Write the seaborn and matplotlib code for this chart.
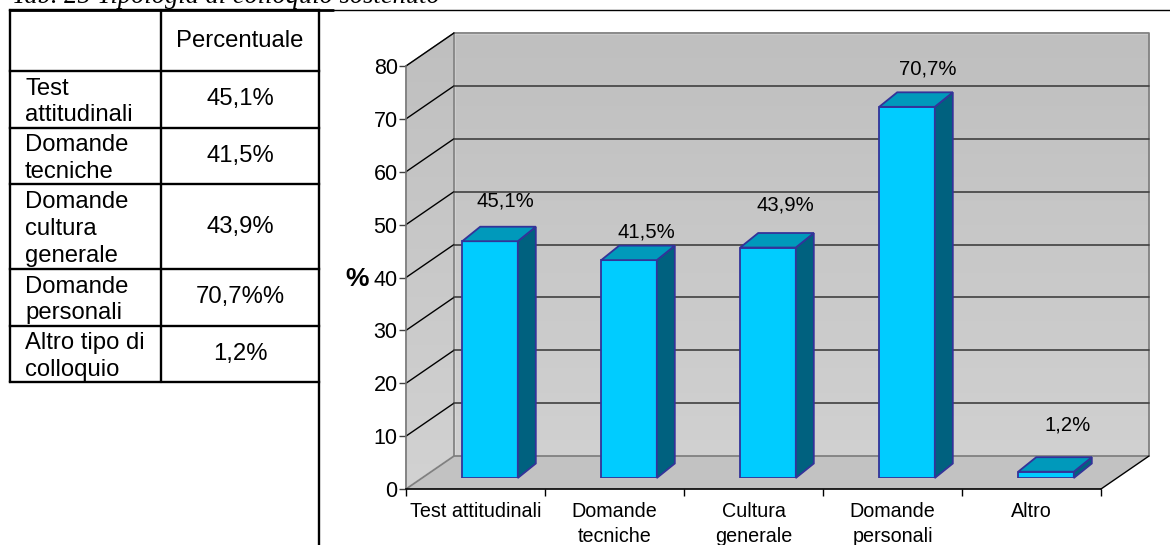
import matplotlib
matplotlib.use('Agg')
import matplotlib.pyplot as plt
import numpy as np
import pandas as pd
import seaborn as sns
from matplotlib.patches import Polygon
from matplotlib.transforms import IdentityTransform

categories = ['Test attitudinali', 'Domande\ntecniche', 'Cultura\ngenerale', 'Domande\npersonali', 'Altro']
values = [45.1, 41.5, 43.9, 70.7, 1.2]
value_labels = ['45,1%', '41,5%', '43,9%', '70,7%', '1,2%']
y_ticks = [0, 10, 20, 30, 40, 50, 60, 70, 80]

table_header = 'Percentuale'
table_rows = ['Test\nattitudinali', 'Domande\ntecniche', 'Domande\ncultura\ngenerale', 'Domande\npersonali', 'Altro tipo di\ncolloquio']
table_values = ['45,1%', '41,5%', '43,9%', '70,7%%', '1,2%']
title = 'Tab. 25 Tipologia di colloquio sostenuto'

W, H = 1170, 545
FONT = 'Liberation Sans'
row_lines = [10, 71, 128, 184, 269, 326, 382]
label_xy = [(505, 201), (646, 232), (785, 205), (928, 69), (1068, 425)]


def px_axes(fig, x0, y0, x1, y1):
    return fig.add_axes([x0 / W, 1 - y1 / H, (x1 - x0) / W, (y1 - y0) / H])


sns.set_theme(style='white')
plt.rcParams['font.family'] = [FONT, 'DejaVu Sans']
plt.rcParams['text.color'] = 'black'
plt.rcParams['xtick.color'] = 'black'
plt.rcParams['ytick.color'] = 'black'
fig = plt.figure(figsize=(W / 100, H / 100), dpi=100)

# page axes in pixels: table and the chart walls
page = px_axes(fig, 0, 0, W, H)
page.set_xlim(0, W)
page.set_ylim(H, 0)
page.axis('off')

page.text(12, 3, title, family='Liberation Serif', style='italic', fontsize=19.1, va='baseline', clip_on=False)
page.plot([10, 333], [10, 10], color='black', lw=2)
page.plot([333, W], [10, 10], color='black', lw=1)
for y in row_lines:
    page.plot([10, 319], [y, y], color='black', lw=1.7, solid_capstyle='projecting')
page.plot([10, 10], [10, 382], color='black', lw=1.7)
page.plot([161, 161], [10, 382], color='black', lw=1.7)
page.plot([319, 319], [10, H], color='black', lw=1.7)
page.text(240, 41, table_header, ha='center', va='center', fontsize=17.2)
for i, (r, v) in enumerate(zip(table_rows, table_values)):
    mid = (row_lines[i + 1] + row_lines[i + 2]) / 2
    page.text(25, mid + 2.5, r, ha='left', va='center', fontsize=17.2, linespacing=1.28)
    page.text(240, mid, v, ha='center', va='center', fontsize=17.2)

grad = np.linspace(0, 1, 256).reshape(-1, 1)
walls = [
    [(454, 33), (1149, 33), (1149, 456), (454, 456)],
    [(406, 66), (454, 33), (454, 456), (406, 489)],
]
for wall in walls:
    im = page.imshow(grad, extent=(406, 1149, 489, 33), cmap=matplotlib.colors.LinearSegmentedColormap.from_list('w', ['#bfbfbf', '#d2d2d2']), aspect='auto', zorder=1)
    poly = Polygon(wall, closed=True, transform=page.transData, fc='none')
    page.add_patch(poly)
    im.set_clip_path(poly)
page.set_xlim(0, W)
page.set_ylim(H, 0)
page.add_patch(Polygon([(406, 489), (454, 456), (1149, 456), (1101, 489)], fc='#c2c2c2', ec='none', zorder=1.5))
page.plot([454, 1149, 1149, 454, 454], [33, 33, 456, 456, 33], color='#808080', lw=1.3, zorder=2)
page.plot([406, 454], [489, 456], color='#808080', lw=1.3, zorder=2)
page.plot([1101, 1149], [489, 456], color='black', lw=1, zorder=2)
page.plot([406, 454], [66, 33], color='#808080', lw=1, zorder=2)
px_per_unit = (489 - 66) / 80
for t in y_ticks[1:]:
    y = 489 - t * px_per_unit
    page.plot([406, 454], [y, y - 33], color='black', lw=1, zorder=2)
    if t < 80:
        page.plot([454, 1149], [y - 33, y - 33], color='#404040', lw=1.2, zorder=2)

# front plane axes: ticks and labels
ax = px_axes(fig, 406, 66, 1101, 489)
ax.patch.set_alpha(0)
ax.set_xlim(-0.5, 4.5)
ax.set_ylim(0, 80)
sns.despine(ax=ax, top=True, right=True)
ax.spines['left'].set_color('#707070')
ax.spines['left'].set_linewidth(1.2)
ax.spines['bottom'].set_color('black')
ax.spines['bottom'].set_linewidth(1.2)
ax.set_yticks(y_ticks)
ax.set_xticks(range(len(categories)))
ax.set_xticklabels(categories, fontsize=14.2, linespacing=1.38)
ax.set_xticks(np.arange(-0.5, 5), minor=True)
ax.tick_params(axis='x', which='major', length=0, pad=9.5)
ax.tick_params(axis='x', which='minor', length=5, width=1, color='black', bottom=True)
ax.tick_params(axis='y', length=5, width=1, color='#404040', left=True, pad=1, labelsize=15.5)
for lab in ax.get_xticklabels():
    lab.set_verticalalignment('top')
    lab.set_clip_on(False)
page.text(357, 279, '%', ha='center', va='center', fontsize=19, fontweight='bold', zorder=3)

# bars sit further back on the floor than the front plane
bar_ax = px_axes(fig, 420.5, 58, 1115.5, 478)
df = pd.DataFrame({'categoria': categories, 'valore': values})
sns.barplot(data=df, x='categoria', y='valore', color='#00ccff', saturation=1, width=0.4,
            edgecolor='#333399', linewidth=1.3, ax=bar_ax)
bar_ax.set_xlim(-0.5, 4.5)
bar_ax.set_ylim(0, 80)
bar_ax.axis('off')
bar_ax.patch.set_alpha(0)

fig.canvas.draw()
dx, dy = 18, 14.5
for bar in bar_ax.patches:
    x0, y0 = bar_ax.transData.transform((bar.get_x(), 0))
    x1, y1 = bar_ax.transData.transform((bar.get_x() + bar.get_width(), bar.get_height()))
    side = [(x1, y0), (x1 + dx, y0 + dy), (x1 + dx, y1 + dy), (x1, y1)]
    top = [(x0, y1), (x0 + dx, y1 + dy), (x1 + dx, y1 + dy), (x1, y1)]
    bar_ax.add_patch(Polygon(side, fc='#00617f', ec='#333399', lw=1.3, transform=IdentityTransform(), clip_on=False))
    bar_ax.add_patch(Polygon(top, fc='#0099bb', ec='#333399', lw=1.3, transform=IdentityTransform(), clip_on=False))

top_page = px_axes(fig, 0, 0, W, H)
top_page.set_xlim(0, W)
top_page.set_ylim(H, 0)
top_page.axis('off')
for txt, (x, y) in zip(value_labels, label_xy):
    top_page.text(x, y, txt, ha='center', va='center', fontsize=14.6)

fig.savefig('out.png', dpi=100)
